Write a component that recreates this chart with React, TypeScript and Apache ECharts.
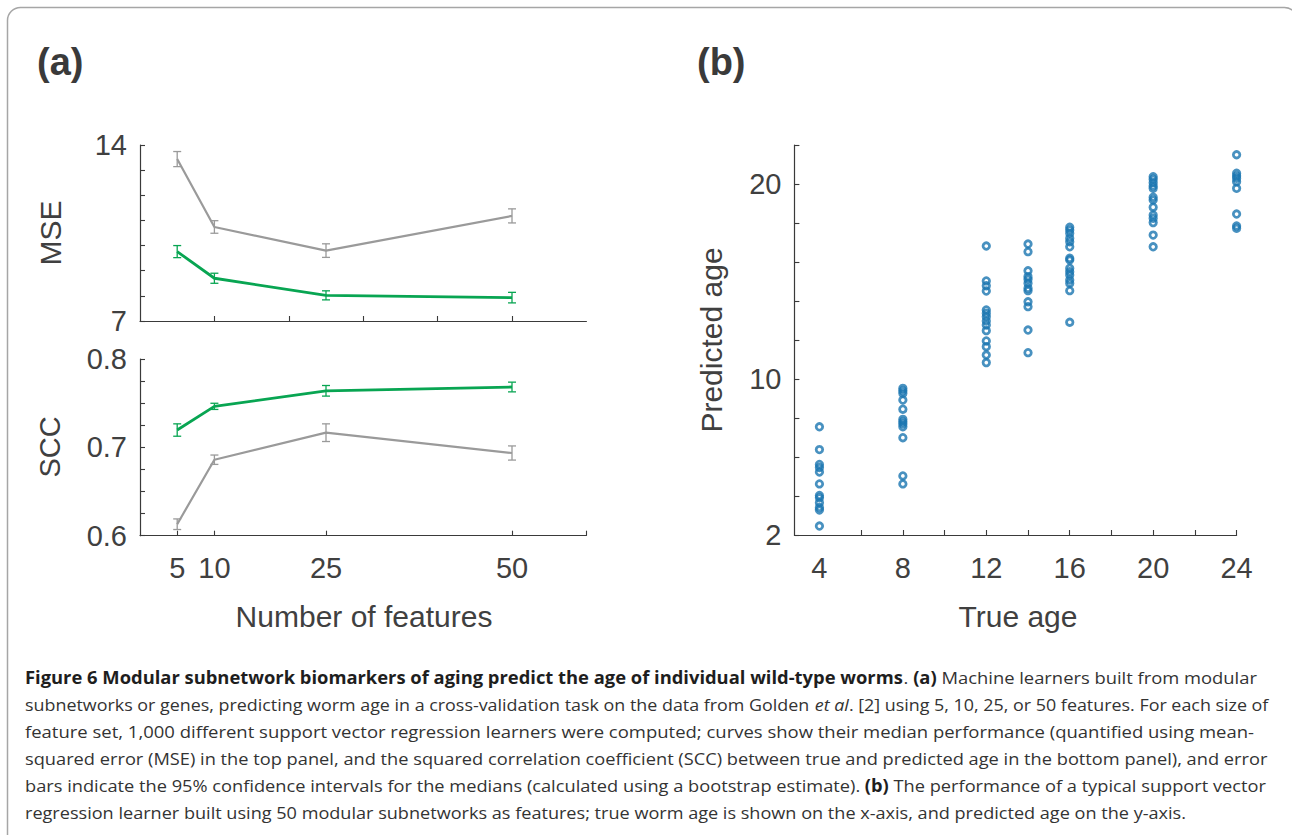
import { useEffect, useRef } from "react";
import * as echarts from "echarts";

// ---------- Panel (a) data ----------
const featureCounts = [5, 10, 25, 50];
const mseGenes = [13.44, 10.74, 9.8, 11.18];
const mseGenesCI = [0.3, 0.25, 0.27, 0.28];
const mseSubnet = [9.76, 8.7, 8.02, 7.93];
const mseSubnetCI = [0.24, 0.2, 0.18, 0.21];
const sccSubnet = [0.7196, 0.7464, 0.764, 0.7683];
const sccSubnetCI = [0.007, 0.0035, 0.006, 0.0055];
const sccGenes = [0.613, 0.686, 0.7166, 0.6936];
const sccGenesCI = [0.006, 0.0053, 0.01, 0.008];

const mseTickLabels = [7, 14];
const mseTicks = [7, 8, 9, 10, 11, 12, 13, 14];
const mseTopXTicks = [10, 20, 30, 40, 50];
const sccTickLabels = [0.6, 0.7, 0.8];
const sccTicks = [0.6, 0.625, 0.65, 0.675, 0.7, 0.725, 0.75, 0.775, 0.8];
const featureTickLabels = [5, 10, 25, 50];
const featureTicks = [5, 10, 25, 50, 60];

// ---------- Panel (b) data ----------
const trueAges = [4, 8, 12, 14, 16, 20, 24];
const predAge4 = [7.55, 6.38, 5.62, 5.46, 5.23, 4.62, 4.03, 3.91, 3.66, 3.41, 3.28, 2.46];
const predAge8 = [9.52, 9.4, 9.27, 8.92, 8.45, 7.93, 7.81, 7.69, 7.55, 6.99, 5.03, 4.62];
const predAge12 = [16.82, 15.03, 14.78, 14.51, 13.54, 13.37, 13.19, 12.97, 12.77, 12.48, 11.95, 11.66, 11.23, 10.84];
const predAge14 = [16.92, 16.53, 15.55, 15.25, 15.11, 14.91, 14.65, 14.53, 13.96, 13.71, 12.51, 11.35];
const predAge16 = [17.78, 17.64, 17.47, 17.22, 17.04, 16.78, 16.19, 16.1, 15.68, 15.5, 15.33, 15.08, 14.91, 14.53, 12.91];
const predAge20 = [20.37, 20.24, 20.07, 19.9, 19.78, 19.32, 19.18, 18.81, 18.41, 18.24, 18.02, 17.38, 16.78];
const predAge24 = [21.5, 20.55, 20.41, 20.29, 20.12, 19.78, 18.46, 17.85, 17.73];
const predictedByAge = [predAge4, predAge8, predAge12, predAge14, predAge16, predAge20, predAge24];

const ageXTickLabels = [4, 8, 12, 16, 20, 24];
const ageXTicks = [6, 8, 10, 12, 14, 16, 18, 20, 22, 24];
const ageYTickLabels = [2, 10, 20];
const ageYTicks = [2, 4, 6, 8, 10, 12, 14, 16, 18, 20, 22];

// ---------- Caption ----------
type Seg = [string, string]; // [style, text]  n normal, b bold, i italic
const captionLines: Seg[][] = [
  [
    ["b", "Figure 6 Modular subnetwork biomarkers of aging predict the age of individual wild-type worms"],
    ["n", ". "],
    ["b", "(a)"],
    ["n", " Machine learners built from modular"],
  ],
  [
    ["n", "subnetworks or genes, predicting worm age in a cross-validation task on the data from Golden "],
    ["i", "et al"],
    ["n", ". [2] using 5, 10, 25, or 50 features. For each size of"],
  ],
  [["n", "feature set, 1,000 different support vector regression learners were computed; curves show their median performance (quantified using mean-"]],
  [["n", "squared error (MSE) in the top panel, and the squared correlation coefficient (SCC) between true and predicted age in the bottom panel), and error"]],
  [
    ["n", "bars indicate the 95% confidence intervals for the medians (calculated using a bootstrap estimate). "],
    ["b", "(b)"],
    ["n", " The performance of a typical support vector"],
  ],
  [["n", "regression learner built using 50 modular subnetworks as features; true worm age is shown on the x-axis, and predicted age on the y-axis."]],
];
const captionRight = [1257, 1269, 1254, 1268, 1266, 1187];

const TEXT = "#404040";
const GRAY = "#9a9a9a";
const GREEN = "#08a552";
const BLUE = "#1a75b0";
const FONT = "Liberation Sans";
const CAP_FONT = "Open Sans";
const CAP_SIZE = 17;

function segFont(kind: string) {
  const style = kind === "i" ? "italic" : "normal";
  const weight = kind === "b" ? "bold" : "normal";
  return `${style} ${weight} ${CAP_SIZE}px "${CAP_FONT}"`;
}

function measureLine(segs: Seg[]) {
  const c = document.createElement("canvas").getContext("2d");
  if (!c) return 1;
  let w = 0;
  for (const [k, t] of segs) {
    c.font = segFont(k);
    w += c.measureText(t).width;
  }
  return w;
}

function errorSeries(xi: number, yi: number, xs: number[], ys: number[], es: number[], color: string) {
  return {
    type: "custom",
    xAxisIndex: xi,
    yAxisIndex: yi,
    silent: true,
    z: 4,
    data: xs.map((x, i) => [x, ys[i], es[i]]),
    renderItem: (_p: any, api: any) => {
      const x = api.value(0);
      const y = api.value(1);
      const e = api.value(2);
      const hi = api.coord([x, y + e]);
      const lo = api.coord([x, y - e]);
      const w = 4;
      const st = { stroke: color, lineWidth: 1.3 };
      return {
        type: "group",
        children: [
          { type: "line", shape: { x1: hi[0], y1: hi[1], x2: lo[0], y2: lo[1] }, style: st },
          { type: "line", shape: { x1: hi[0] - w, y1: hi[1], x2: hi[0] + w, y2: hi[1] }, style: st },
          { type: "line", shape: { x1: lo[0] - w, y1: lo[1], x2: lo[0] + w, y2: lo[1] }, style: st },
        ],
      };
    },
  };
}

function lineSeries(xi: number, yi: number, xs: number[], ys: number[], color: string, width: number) {
  return {
    type: "line",
    xAxisIndex: xi,
    yAxisIndex: yi,
    data: xs.map((x, i) => [x, ys[i]]),
    symbol: "none",
    silent: true,
    z: 3,
    lineStyle: { color, width },
  };
}

const axisLine = { show: true, onZero: false, lineStyle: { color: "#3a3a3a", width: 1.2 } };
const tickBase = { show: true, inside: true, length: 5, lineStyle: { color: "#3a3a3a", width: 1.1 } };
const labelBase = { color: TEXT, fontSize: 29, fontFamily: FONT };

function titleText(text: string, x: number, y: number, rotate: boolean, size = 30) {
  return {
    type: "text",
    x,
    y,
    rotation: rotate ? Math.PI / 2 : 0,
    silent: true,
    style: {
      text,
      fill: TEXT,
      fontSize: size,
      fontFamily: FONT,
      align: "center",
      verticalAlign: "middle",
      textAlign: "center",
      textVerticalAlign: "middle",
    },
  };
}

export default function App() {
  const ref = useRef<HTMLDivElement>(null);

  useEffect(() => {
    if (!ref.current) return;
    const chart = echarts.init(ref.current, undefined, { renderer: "svg" });

    const rich: any = {
      n: { fontSize: CAP_SIZE, fontFamily: CAP_FONT, fill: "#333333", fontWeight: "normal" },
      b: { fontSize: CAP_SIZE, fontFamily: CAP_FONT, fill: "#1e1e1e", fontWeight: "bold" },
      i: { fontSize: CAP_SIZE, fontFamily: CAP_FONT, fill: "#333333", fontStyle: "italic" },
    };
    const captionLeft = 25;
    const captionGraphics = captionLines.map((segs, li) => {
      const w = measureLine(segs);
      const s = (captionRight[li] - captionLeft) / w;
      return {
        type: "text",
        x: captionLeft,
        y: 677 + li * 27.1,
        scaleX: s,
        silent: true,
        style: {
          text: segs.map(([k, t]) => `{${k}|${t}}`).join(""),
          rich,
          fontSize: CAP_SIZE,
          fontFamily: CAP_FONT,
          align: "left",
          verticalAlign: "middle",
          textAlign: "left",
          textVerticalAlign: "middle",
        },
      };
    });

    const scatterSeries = trueAges.map((age, k) => ({
      type: "scatter",
      xAxisIndex: 2,
      yAxisIndex: 2,
      data: predictedByAge[k].map((v) => [age, v]),
      symbol: "circle",
      symbolSize: 6.5,
      silent: true,
      z: 3,
      itemStyle: { color: "rgba(255,255,255,0)", borderColor: BLUE, borderWidth: 2.8 },
    }));

    const option: any = {
      animation: false,
      backgroundColor: "#ffffff",
      textStyle: { fontFamily: FONT },
      grid: [
        { left: 140, top: 145, width: 446.4, height: 176 },
        { left: 140, top: 359, width: 446.4, height: 176.7 },
        { left: 794.4, top: 145, width: 442.2, height: 390 },
      ],
      xAxis: [
        {
          type: "value",
          gridIndex: 0,
          min: 0,
          max: 60,
          axisLine,
          axisTick: { ...tickBase, customValues: mseTopXTicks },
          axisLabel: { show: false },
          splitLine: { show: false },
        },
        {
          type: "value",
          gridIndex: 1,
          min: 0,
          max: 60,
          axisLine,
          axisTick: { ...tickBase, customValues: featureTicks },
          axisLabel: { ...labelBase, margin: 18, customValues: featureTickLabels },
          splitLine: { show: false },
        },
        {
          type: "value",
          gridIndex: 2,
          min: 2.8,
          max: 24,
          axisLine,
          axisTick: { ...tickBase, customValues: ageXTicks },
          axisLabel: { ...labelBase, margin: 18, customValues: ageXTickLabels },
          splitLine: { show: false },
        },
      ],
      yAxis: [
        {
          type: "value",
          gridIndex: 0,
          min: 7,
          max: 14,
          axisLine,
          axisTick: { ...tickBase, customValues: mseTicks },
          axisLabel: { ...labelBase, margin: 13, customValues: mseTickLabels },
          splitLine: { show: false },
        },
        {
          type: "value",
          gridIndex: 1,
          min: 0.6,
          max: 0.8,
          axisLine,
          axisTick: { ...tickBase, customValues: sccTicks },
          axisLabel: {
            ...labelBase,
            margin: 13,
            customValues: sccTickLabels,
            formatter: (v: number) => v.toFixed(1),
          },
          splitLine: { show: false },
        },
        {
          type: "value",
          gridIndex: 2,
          min: 2,
          max: 22,
          axisLine,
          axisTick: { ...tickBase, customValues: ageYTicks },
          axisLabel: { ...labelBase, margin: 13, customValues: ageYTickLabels },
          splitLine: { show: false },
        },
      ],
      series: [
        lineSeries(0, 0, featureCounts, mseGenes, GRAY, 2.2),
        lineSeries(0, 0, featureCounts, mseSubnet, GREEN, 2.8),
        errorSeries(0, 0, featureCounts, mseGenes, mseGenesCI, GRAY),
        errorSeries(0, 0, featureCounts, mseSubnet, mseSubnetCI, GREEN),
        lineSeries(1, 1, featureCounts, sccGenes, GRAY, 2.2),
        lineSeries(1, 1, featureCounts, sccSubnet, GREEN, 2.8),
        errorSeries(1, 1, featureCounts, sccGenes, sccGenesCI, GRAY),
        errorSeries(1, 1, featureCounts, sccSubnet, sccSubnetCI, GREEN),
        ...scatterSeries,
      ],
      graphic: [
        {
          type: "rect",
          silent: true,
          z: -10,
          shape: { x: 7.5, y: 7.5, width: 1290, height: 900, r: 13 },
          style: { fill: "none", stroke: "#a6a6a6", lineWidth: 1.5 },
        },
        {
          type: "text",
          x: 37,
          y: 62,
          silent: true,
          style: {
            text: "(a)",
            fill: "#3a3a3a",
            fontSize: 38,
            fontWeight: "bold",
            fontFamily: FONT,
            align: "left",
            verticalAlign: "middle",
            textAlign: "left",
            textVerticalAlign: "middle",
          },
        },
        {
          type: "text",
          x: 697,
          y: 62,
          silent: true,
          style: {
            text: "(b)",
            fill: "#3a3a3a",
            fontSize: 38,
            fontWeight: "bold",
            fontFamily: FONT,
            align: "left",
            verticalAlign: "middle",
            textAlign: "left",
            textVerticalAlign: "middle",
          },
        },
        titleText("MSE", 50, 233, true, 30),
        titleText("SCC", 50, 447, true, 29),
        titleText("Number of features", 364, 616, false, 30),
        titleText("Predicted age", 711, 340, true, 30),
        titleText("True age", 1018, 616, false, 30),
        ...captionGraphics,
      ],
    };

    chart.setOption(option);
    return () => chart.dispose();
  }, []);

  return (
    <div
      ref={ref}
      style={{ position: "fixed", left: 0, top: 0, width: 1292, height: 835, background: "#fff" }}
    />
  );
}
